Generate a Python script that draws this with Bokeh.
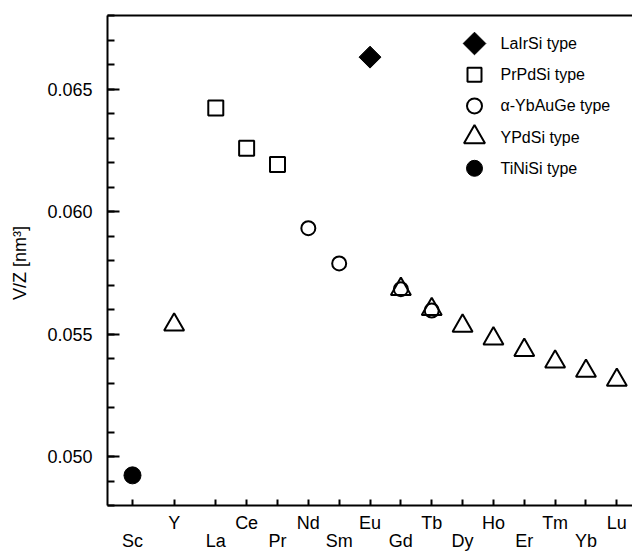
import numpy as np
from bokeh.plotting import figure
from bokeh.models import (ColumnDataSource, Range1d, LinearAxis, FixedTicker,
                          SingleIntervalTicker, PrintfTickFormatter)
from bokeh.core.properties import value
from bokeh.embed import file_html
from bokeh.resources import INLINE

# ---- data -------------------------------------------------------------
elements = ["Sc", "Y", "La", "Ce", "Pr", "Nd", "Sm", "Eu", "Gd", "Tb",
            "Dy", "Ho", "Er", "Tm", "Yb", "Lu"]
element_pos = [0, 1.35, 2.7, 3.7, 4.7, 5.7, 6.7, 7.7, 8.7, 9.7,
               10.7, 11.7, 12.7, 13.7, 14.7, 15.7]

lairsi_el = ["Eu"]
lairsi_v = [0.0663]
prpdsi_el = ["La", "Ce", "Pr"]
prpdsi_v = [0.06422, 0.06258, 0.06192]
ybauge_el = ["Nd", "Sm", "Gd", "Tb"]
ybauge_v = [0.05932, 0.05788, 0.05683, 0.05596]
ypdsi_el = ["Y", "Gd", "Tb", "Dy", "Ho", "Er", "Tm", "Yb", "Lu"]
ypdsi_v = [0.05538, 0.05683, 0.05601, 0.05533, 0.05481, 0.05434, 0.05387, 0.05349, 0.05312]
tinisi_el = ["Sc"]
tinisi_v = [0.04923]

legend_labels = ["LaIrSi type", "PrPdSi type", "α-YbAuGe type", "YPdSi type", "TiNiSi type"]

pos = dict(zip(elements, element_pos))
FONT = "Liberation Sans"
FRAME_W, FRAME_H = 525, 490

def src(els, vals):
    return ColumnDataSource(dict(x=[pos[e] for e in els], y=vals))

p = figure(frame_width=FRAME_W, frame_height=FRAME_H, output_backend="svg",
           toolbar_location=None, x_axis_type=None, y_axis_type=None,
           x_range=Range1d(-0.81, 16.208), y_range=Range1d(0.048, 0.068),
           min_border_left=107, min_border_right=0, min_border_top=15,
           min_border_bottom=0)
p.outline_line_color = None
p.xgrid.visible = False
p.ygrid.visible = False
p.background_fill_color = "white"
p.border_fill_color = "white"
# pixel-unit ranges used only to place the legend inside the frame
p.extra_x_ranges = {"px": Range1d(0, FRAME_W)}
p.extra_y_ranges = {"px": Range1d(FRAME_H, 0)}

# ---- axes -------------------------------------------------------------
yax = LinearAxis(ticker=SingleIntervalTicker(interval=0.005, num_minor_ticks=5),
                 formatter=PrintfTickFormatter(format="%.3f"))
yax.axis_line_width = 2
yax.axis_line_color = "black"
yax.major_tick_in = 12
yax.major_tick_out = 0
yax.minor_tick_in = 7
yax.minor_tick_out = 0
yax.major_tick_line_width = 2
yax.minor_tick_line_width = 2
yax.major_tick_line_color = "black"
yax.minor_tick_line_color = "black"
yax.major_label_standoff = 15
yax.major_label_text_font = FONT
yax.major_label_text_font_size = "18px"
yax.major_label_text_color = "black"
yax.axis_label = "V/Z  [nm³]"
yax.axis_label_text_font = FONT
yax.axis_label_text_font_size = "18px"
yax.axis_label_text_font_style = "normal"
yax.axis_label_text_color = "black"
yax.axis_label_standoff = 14
p.add_layout(yax, "left")

upper = {pp: (name if i % 2 == 1 else "") for i, (name, pp) in enumerate(zip(elements, element_pos))}
lower_pos = [pp for i, pp in enumerate(element_pos) if i % 2 == 0]
lower = {pp: elements[i] for i, pp in enumerate(element_pos) if i % 2 == 0}

xax = LinearAxis(ticker=FixedTicker(ticks=element_pos, minor_ticks=[]))
xax.major_label_overrides = upper
xax.axis_line_width = 2
xax.axis_line_color = "black"
xax.major_tick_in = 6
xax.major_tick_out = 0
xax.major_tick_line_width = 2
xax.major_tick_line_color = "black"
xax.minor_tick_in = 0
xax.minor_tick_out = 0
xax.major_label_standoff = 7
xax.major_label_text_font = FONT
xax.major_label_text_font_size = "18px"
xax.major_label_text_color = "black"
p.add_layout(xax, "below")

xax2 = LinearAxis(ticker=FixedTicker(ticks=lower_pos, minor_ticks=[]))
xax2.major_label_overrides = lower
xax2.axis_line_color = None
xax2.major_tick_in = 0
xax2.major_tick_out = 0
xax2.minor_tick_in = 0
xax2.minor_tick_out = 0
xax2.major_label_standoff = -5
xax2.major_label_text_font = FONT
xax2.major_label_text_font_size = "18px"
xax2.major_label_text_color = "black"
p.add_layout(xax2, "below")

top = LinearAxis(ticker=FixedTicker(ticks=[], minor_ticks=[]))
top.axis_line_width = 2
top.axis_line_color = "black"
top.major_tick_in = 0
top.major_tick_out = 0
top.minor_tick_in = 0
top.minor_tick_out = 0
top.major_label_standoff = 0
top.major_label_text_font_size = "0px"
p.add_layout(top, "above")

# ---- data marks -------------------------------------------------------
p.scatter("x", "y", source=src(lairsi_el, lairsi_v), marker="square",
          angle=np.pi / 4, size=15.5, fill_color="black", line_color="black")
p.scatter("x", "y", source=src(prpdsi_el, prpdsi_v), marker="square",
          size=15, fill_color=None, line_color="black", line_width=2)
p.scatter("x", "y", source=src(ybauge_el, ybauge_v), marker="circle",
          size=14, fill_color=None, line_color="black", line_width=2)
p.scatter("x", "y", source=src(ypdsi_el, ypdsi_v), marker="triangle",
          size=20, fill_color=None, line_color="black", line_width=2)
p.scatter("x", "y", source=src(tinisi_el, tinisi_v), marker="circle",
          size=17, fill_color="black", line_color="black")

# ---- legend (drawn in frame pixel units) -----------------------------
n = len(legend_labels)
leg_row = [28 + 31.2 * i for i in range(n)]
leg_src = ColumnDataSource(dict(
    x=[367] * n, y=leg_row, tx=[393] * n, label=legend_labels,
    marker=["square", "square", "circle", "triangle", "circle"],
    size=[16, 14, 15, 21, 16],
    angle=[np.pi / 4, 0, 0, 0, 0],
    fill=["black", None, None, None, "black"],
    lw=[1, 2, 2, 2, 1],
))
p.scatter("x", "y", source=leg_src, marker="marker", size="size", angle="angle",
          fill_color="fill", line_color="black", line_width="lw",
          x_range_name="px", y_range_name="px")
p.text("tx", "y", text="label", source=leg_src, x_range_name="px", y_range_name="px",
       text_font=value(FONT), text_font_size="16px", text_baseline="middle",
       text_align="left", text_color="black")

open("out.html", "w").write(file_html(p, INLINE))
